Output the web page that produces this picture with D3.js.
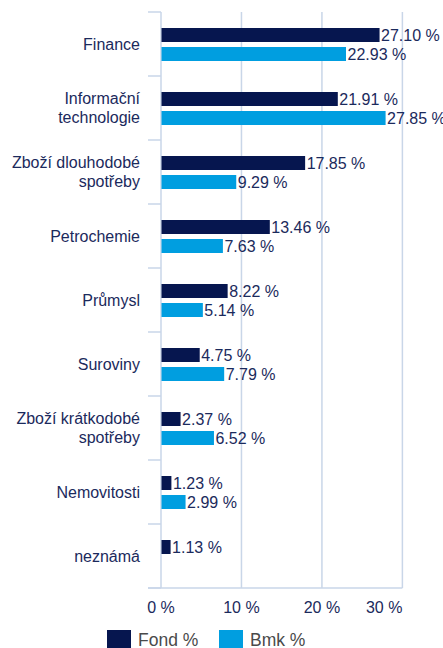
<!DOCTYPE html>
<html>
<head>
<meta charset="utf-8">
<script src="https://cdn.jsdelivr.net/npm/d3@7"></script>
<style>
  body { margin: 0; background: #fff; }
  text { font-family: "Liberation Sans", Arial, sans-serif; }
</style>
</head>
<body>
<div id="chart"></div>
<script>
const categories = [
  ["Finance"],
  ["Informační", "technologie"],
  ["Zboží dlouhodobé", "spotřeby"],
  ["Petrochemie"],
  ["Průmysl"],
  ["Suroviny"],
  ["Zboží krátkodobé", "spotřeby"],
  ["Nemovitosti"],
  ["neznámá"]
]
const fondValues = [27.10, 21.91, 17.85, 13.46, 8.22, 4.75, 2.37, 1.23, 1.13]
const bmkValues = [22.93, 27.85, 9.29, 7.63, 5.14, 7.79, 6.52, 2.99, null]
const series = ["Fond %", "Bmk %"]
const xTicks = [0, 10, 20, 30]

const colors = { "Fond %": "#06164f", "Bmk %": "#009ee0" }
const textColor = "#1b2a5c"
const gridColor = "#c9d6e8"

const width = 443, height = 648
const margin = { top: 12, right: 39, bottom: 60, left: 161 }

const svg = d3.select("#chart").append("svg")
  .attr("width", width)
  .attr("height", height)

// axis runs a little past 30 %
const x = d3.scaleLinear()
  .domain([0, 30.2])
  .range([margin.left, width - margin.right])

const catNames = categories.map(c => c.join(" "))
const y0 = d3.scaleBand()
  .domain(catNames)
  .range([margin.top, height - margin.bottom])

const y1 = d3.scaleBand()
  .domain(series)
  .range([16, 49])
  .paddingInner(0.263)

// vertical gridlines
svg.append("g")
  .selectAll("line")
  .data(xTicks)
  .join("line")
  .attr("x1", d => x(d)).attr("x2", d => x(d))
  .attr("y1", margin.top).attr("y2", height - margin.bottom)
  .attr("stroke", gridColor)
  .attr("stroke-width", 1.5)

// category separators (ticks on the left axis)
svg.append("g")
  .selectAll("line")
  .data(catNames.concat(["end"]))
  .join("line")
  .attr("x1", margin.left - 13).attr("x2", margin.left)
  .attr("y1", (d, i) => i < catNames.length ? y0(d) : height - margin.bottom)
  .attr("y2", (d, i) => i < catNames.length ? y0(d) : height - margin.bottom)
  .attr("stroke", gridColor)
  .attr("stroke-width", 1.5)

// bottom axis line
svg.append("line")
  .attr("x1", margin.left - 13).attr("x2", x(30))
  .attr("y1", height - margin.bottom).attr("y2", height - margin.bottom)
  .attr("stroke", gridColor)
  .attr("stroke-width", 1.5)

const rows = catNames.map((c, i) => ({ cat: c, lines: categories[i], values: [
  { key: "Fond %", v: fondValues[i] },
  { key: "Bmk %", v: bmkValues[i] }
].filter(d => d.v !== null) }))

const groups = svg.append("g")
  .selectAll("g")
  .data(rows)
  .join("g")
  .attr("transform", d => `translate(0,${y0(d.cat)})`)

groups.selectAll("rect")
  .data(d => d.values)
  .join("rect")
  .attr("x", x(0) + 0.5)
  .attr("y", d => y1(d.key))
  .attr("width", d => x(d.v) - x(0))
  .attr("height", y1.bandwidth())
  .attr("fill", d => colors[d.key])

groups.selectAll("text.val")
  .data(d => d.values)
  .join("text")
  .attr("class", "val")
  .attr("x", d => x(d.v) + 2)
  .attr("y", d => y1(d.key) + y1.bandwidth() / 2)
  .attr("dy", "0.36em")
  .attr("font-size", 16)
  .attr("fill", textColor)
  .text(d => d.v.toFixed(2) + " %")

// category labels
groups.append("text")
  .attr("x", 140)
  .attr("text-anchor", "end")
  .attr("font-size", 16)
  .attr("fill", textColor)
  .each(function (d) {
    const n = d.lines.length
    d3.select(this).selectAll("tspan")
      .data(d.lines)
      .join("tspan")
      .attr("x", 140)
      .attr("y", (l, i) => y0.bandwidth() / 2 + (i - (n - 1) / 2) * 19)
      .attr("dy", "0.36em")
      .text(l => l)
  })

// x tick labels
svg.append("g")
  .selectAll("text")
  .data(xTicks)
  .join("text")
  .attr("x", d => x(d))
  .attr("y", 613)
  .attr("text-anchor", (d, i) => i === xTicks.length - 1 ? "end" : "middle")
  .attr("font-size", 16)
  .attr("fill", textColor)
  .text(d => d + " %")

// legend
const legend = svg.append("g")
  .selectAll("g")
  .data(series)
  .join("g")
  .attr("transform", (d, i) => `translate(${107 + i * 112},630)`)

legend.append("rect")
  .attr("width", 24)
  .attr("height", 20)
  .attr("fill", d => colors[d])

legend.append("text")
  .attr("x", 31)
  .attr("y", 16)
  .attr("font-size", 17.5)
  .attr("fill", "#4a4a4a")
  .text(d => d)
</script>
</body>
</html>
